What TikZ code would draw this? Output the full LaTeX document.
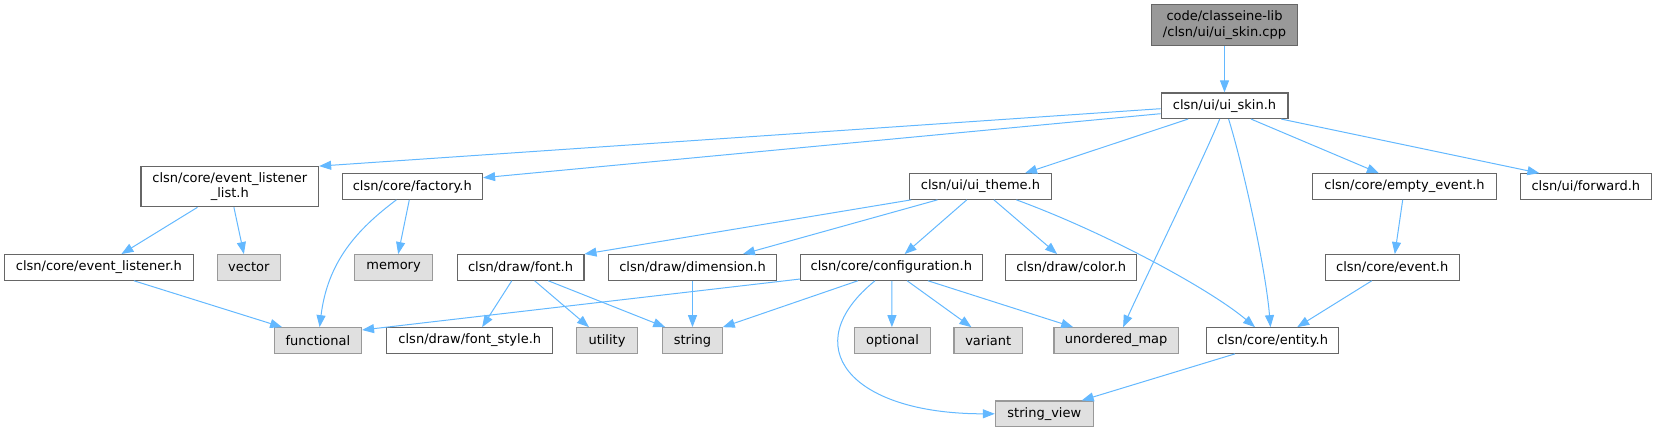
\documentclass[tikz,border=0pt]{standalone}
\usepackage{fontspec}
\setmainfont{DejaVu Sans}
\usetikzlibrary{arrows.meta}
\definecolor{edgecol}{HTML}{63B8FF}
\definecolor{wborder}{HTML}{666666}
\definecolor{gfill}{HTML}{E0E0E0}
\definecolor{gborder}{HTML}{999999}
\definecolor{mainfill}{HTML}{999999}
\tikzset{
  base/.style={rectangle, inner sep=0pt, minimum height=25.5pt, line width=1.2pt,
    font=\fontsize{13}{15.3}\selectfont, align=center, text=black},
  wbox/.style={base, draw=wborder, fill=white},
  gbox/.style={base, draw=gborder, fill=gfill},
  mbox/.style={base, draw=wborder, fill=mainfill, minimum height=41pt},
  edge/.style={draw=edgecol, line width=1pt, -{Triangle[length=12pt,width=9pt]}}
}
\begin{document}
\begin{tikzpicture}[x=1pt,y=-1pt]
\useasboundingbox (0,0) rectangle (1657,432);
% row 0/1
\node[mbox, minimum width=146pt] (cpp) at (1224.5,25.2) {code/classeine-lib\\/clsn/ui/ui\_skin.cpp};
\node[wbox, minimum width=126.8pt] (skin) at (1224.5,105.7) {clsn/ui/ui\_skin.h};
% row 2
\node[wbox, minimum width=177.5pt, minimum height=40pt] (ell) at (229.8,186.7) {clsn/core/event\_listener\\\_list.h};
\node[wbox, minimum width=140.4pt] (fac) at (412.3,186.5) {clsn/core/factory.h};
\node[wbox, minimum width=141.8pt] (theme) at (980.5,186.5) {clsn/ui/ui\_theme.h};
\node[wbox, minimum width=183.3pt] (empty) at (1404.5,186.5) {clsn/core/empty\_event.h};
\node[wbox, minimum width=131.1pt] (fwd) at (1585.8,186.5) {clsn/ui/forward.h};
% row 3
\node[wbox, minimum width=188.6pt] (el) at (98.9,267.4) {clsn/core/event\_listener.h};
\node[gbox, minimum width=63.3pt] (vec) at (248.8,267.4) {vector};
\node[gbox, minimum width=77.9pt] (mem) at (393.6,267.4) {memory};
\node[wbox, minimum width=126.8pt] (font) at (520.5,267.4) {clsn/draw/font.h};
\node[wbox, minimum width=168.6pt] (dim) at (692.5,267.4) {clsn/draw/dimension.h};
\node[wbox, minimum width=181.7pt] (conf) at (891.3,267.4) {clsn/core/configuration.h};
\node[wbox, minimum width=130.9pt] (color) at (1071.2,267.4) {clsn/draw/color.h};
\node[wbox, minimum width=133.9pt] (event) at (1392.2,267.4) {clsn/core/event.h};
% row 4
\node[gbox, minimum width=87.1pt] (func) at (317.9,340.5) {functional};
\node[wbox, minimum width=166.1pt] (fstyle) at (469.8,340.5) {clsn/draw/font\_style.h};
\node[gbox, minimum width=60.3pt] (util) at (607,340.5) {utility};
\node[gbox, minimum width=59.3pt] (str) at (692.5,340.5) {string};
\node[gbox, minimum width=75.7pt] (opt) at (892.5,340.5) {optional};
\node[gbox, minimum width=68.6pt] (var) at (988.2,340.5) {variant};
\node[gbox, minimum width=124.6pt] (umap) at (1116.2,340.5) {unordered\_map};
\node[wbox, minimum width=132.5pt] (ent) at (1272.5,340.5) {clsn/core/entity.h};
% row 5
\node[gbox, minimum width=97.8pt] (sv) at (1044.3,413.8) {string\_view};

% edges
\draw[edge] (cpp.south) -- (skin.north);
\draw[edge] ([yshift=-3pt]skin.west) -- (ell.north east);
\draw[edge] ([yshift=-8pt]skin.west) -- ([yshift=8.8pt]fac.east);
\draw[edge] ([xshift=-36.4pt]skin.south) -- ([xshift=44.5pt]theme.north);
\draw[edge] ([xshift=-4.8pt]skin.south) .. controls +(-14,35) and +(18,-40) .. ([xshift=6.9pt]umap.north);
\draw[edge] ([xshift=4.1pt]skin.south) .. controls +(14,45) and +(-5,-60) .. ([xshift=-2pt]ent.north);
\draw[edge] ([xshift=26.5pt]skin.south) -- ([xshift=-25.6pt]empty.north);
\draw[edge] ([xshift=56.7pt]skin.south) -- ([xshift=-46.4pt]fwd.north);

\draw[edge] ([xshift=-32.3pt]ell.south) -- ([xshift=22.5pt]el.north);
\draw[edge] ([xshift=4.1pt]ell.south) -- ([xshift=-4.9pt]vec.north);
\draw[edge] ([xshift=-15.9pt]fac.south) .. controls +(-40,30) and +(8,-65) .. ([xshift=1.7pt]func.north);
\draw[edge] ([xshift=-3pt]fac.south) -- ([xshift=4.6pt]mem.north);
\draw[edge] ([xshift=35pt]el.south) -- ([xshift=-35.8pt]func.north);

\draw[edge] ([xshift=2.2pt]theme.south west) -- (font.north east);
\draw[edge] ([xshift=-43pt]theme.south) -- ([xshift=50.4pt]dim.north);
\draw[edge] ([xshift=-13.7pt]theme.south) -- ([xshift=13.3pt]conf.north);
\draw[edge] ([xshift=13.4pt]theme.south) -- ([xshift=-14.1pt]color.north);
\draw[edge] ([xshift=35.9pt]theme.south) .. controls +(90,33) and +(-45,-38) .. ([xshift=-17.5pt]ent.north);

\draw[edge] ([xshift=-8.7pt]font.south) -- ([xshift=12.3pt]fstyle.north);
\draw[edge] ([xshift=14.1pt]font.south) -- ([xshift=-18pt]util.north);
\draw[edge] ([xshift=27.7pt]font.south) -- ([xshift=3pt]str.north west);

\draw[edge] ([yshift=1.7pt]conf.south west) -- ([yshift=10.5pt]func.east);
\draw[edge] ([xshift=-33.4pt]conf.south) -- (str.north east);
\draw[edge] ([xshift=-16.3pt]conf.south) .. controls +(-80,65) and +(-145.4,0) .. (sv.west);
\draw[edge] ([xshift=0.6pt]conf.south) -- ([xshift=-0.6pt]opt.north);
\draw[edge] ([xshift=15.8pt]conf.south) -- ([xshift=-16.8pt]var.north);
\draw[edge] ([xshift=36.6pt]conf.south) -- ([xshift=-43pt]umap.north);
\draw[edge] (dim.south) -- (str.north);

\draw[edge] ([xshift=-1.8pt]empty.south) -- ([xshift=2.6pt]event.north);
\draw[edge] ([xshift=-20.4pt]event.south) -- ([xshift=24.7pt]ent.north);
\draw[edge] ([xshift=-37.5pt]ent.south) -- ([xshift=37.4pt]sv.north);
\end{tikzpicture}
\end{document}
